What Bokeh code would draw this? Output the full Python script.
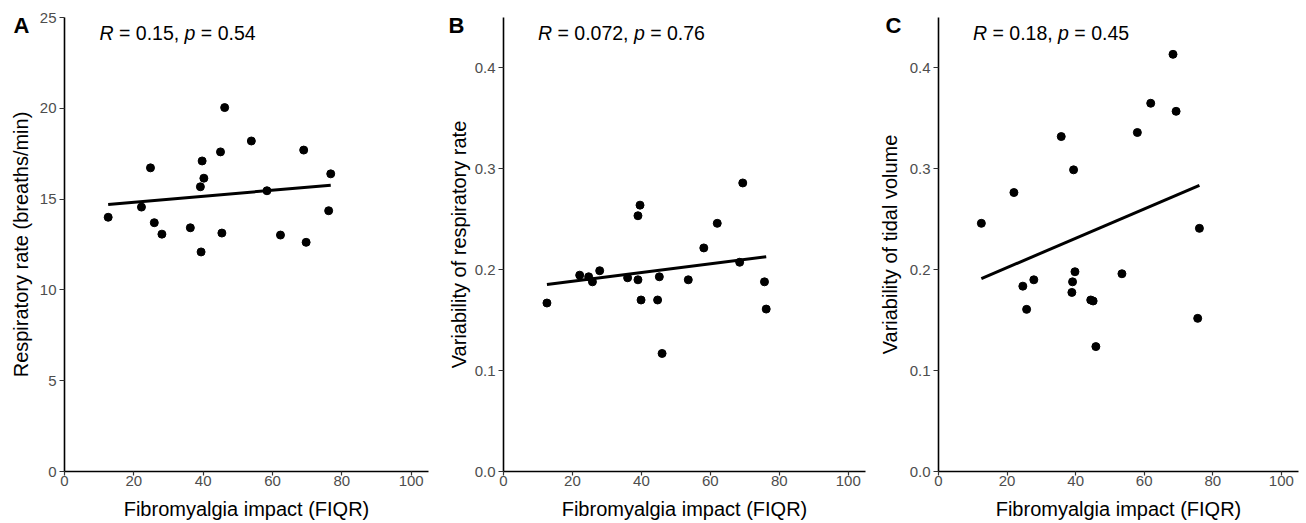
import numpy as np
from bokeh.plotting import figure
from bokeh.layouts import row
from bokeh.models import Range1d, FixedTicker, PrintfTickFormatter, Label
from bokeh.embed import file_html
from bokeh.resources import INLINE

# ---------------- data ----------------
fiqr_a = [12.6, 22.2, 24.8, 25.9, 28.1, 36.3, 39.2, 39.7, 40.2, 39.4,
          45.0, 45.4, 46.2, 53.9, 58.4, 62.3, 69.0, 69.7, 76.2, 76.8]
resp_rate = [14.0, 14.56, 16.72, 13.7, 13.07, 13.42, 15.68, 17.1, 16.15, 12.09,
             17.6, 13.13, 20.04, 18.2, 15.46, 13.02, 17.7, 12.62, 14.36, 16.39]

fiqr_b = [12.6, 22.1, 24.7, 25.8, 27.9, 36.0, 39.0, 39.0, 39.6, 39.9,
          44.7, 45.2, 46.0, 53.6, 58.1, 62.0, 68.5, 69.4, 75.7, 76.2]
resp_rate_var = [0.167, 0.1946, 0.193, 0.188, 0.199, 0.192, 0.190, 0.2535, 0.264, 0.170,
                 0.170, 0.193, 0.117, 0.190, 0.2216, 0.246, 0.2074, 0.286, 0.188, 0.161]

fiqr_c = [12.5, 22.0, 24.6, 25.7, 27.8, 35.8, 38.9, 39.1, 39.4, 39.8,
          44.4, 45.1, 45.9, 53.5, 58.0, 61.9, 68.4, 69.3, 75.6, 76.1]
tidal_vol_var = [0.246, 0.2765, 0.1837, 0.1607, 0.190, 0.332, 0.1775, 0.188, 0.299, 0.198,
                 0.170, 0.169, 0.1238, 0.196, 0.336, 0.365, 0.4135, 0.357, 0.1518, 0.241]

x_ticks = [0, 20, 40, 60, 80, 100]
a_ticks = [0, 5, 10, 15, 20, 25]
bc_ticks = [0.0, 0.1, 0.2, 0.3, 0.4]

tags = ["A", "B", "C"]
y_labels = ["Respiratory rate (breaths/min)",
            "Variability of respiratory rate",
            "Variability of tidal volume"]
r_values = ["0.15", "0.072", "0.18"]
p_values = ["0.54", "0.76", "0.45"]
x_label = "Fibromyalgia impact (FIQR)"

# ---------------- styling / layout ----------------
FONT = "Liberation Sans"
XMAX = 105
H = 521          # figure height (px)
TOP = 17         # px from figure top to y = ymax
DY = 454         # px spanned by 0..ymax

# per panel: figure width, px from figure left to x = 0, px spanned by 0..XMAX
layout_specs = [
    dict(width=438, left=64, dx=364, ymax=25, ticks=a_ticks, fmt="%d",
         label_standoff=5, tag_px=13, ann_px=99),
    dict(width=435, left=65, dx=362, ymax=0.45, ticks=bc_ticks, fmt="%.1f",
         label_standoff=2, tag_px=10, ann_px=99.5),
    dict(width=427, left=65, dx=360, ymax=0.45, ticks=bc_ticks, fmt="%.1f",
         label_standoff=6, tag_px=12, ann_px=99.5),
]

xs_all = [fiqr_a, fiqr_b, fiqr_c]
ys_all = [resp_rate, resp_rate_var, tidal_vol_var]

ADV = {' ': 0.278, '=': 0.584, '.': 0.278, ',': 0.278, 'R': 0.722, 'p': 0.556}
for d in "0123456789":
    ADV[d] = 0.556


def text_width(s, size):
    return sum(ADV.get(c, 0.556) for c in s) * size


ANN_SIZE = 19.5
TAG_Y = 24.5     # requested baseline px
ANN_Y = 32.5
figs = []
for i in range(3):
    spec = layout_specs[i]
    W, L, DX, ymax = spec["width"], spec["left"], spec["dx"], spec["ymax"]

    def dx_data(px):
        return (px - L) * XMAX / DX

    def dy_data(px):
        return ymax - (px - TOP) * ymax / DY

    p = figure(width=W, height=H, output_backend="svg", toolbar_location=None,
               x_range=Range1d(dx_data(0), dx_data(W)),
               y_range=Range1d(dy_data(H), dy_data(0)),
               min_border=0)
    p.outline_line_color = None
    p.background_fill_color = "white"
    p.border_fill_color = "white"
    p.xgrid.visible = False
    p.ygrid.visible = False

    # axes (drawn at fixed locations so that the frame covers the whole figure)
    for ax in (p.xaxis[0], p.yaxis[0]):
        ax.fixed_location = 0
        ax.axis_line_color = "black"
        ax.axis_line_width = 1.6
        ax.major_tick_line_color = "#333333"
        ax.major_tick_line_width = 1.2
        ax.major_tick_in = 0
        ax.minor_tick_line_color = None
        ax.major_label_text_font = FONT
        ax.major_label_text_font_size = "15px"
        ax.major_label_text_color = "#4D4D4D"
        ax.axis_label_text_font = FONT
        ax.axis_label_text_font_size = "20px"
        ax.axis_label_text_font_style = "normal"
        ax.axis_label_text_color = "black"

    p.xaxis.bounds = (0, XMAX)
    p.xaxis.ticker = FixedTicker(ticks=x_ticks)
    p.xaxis.axis_label = x_label
    p.xaxis.major_tick_out = 4
    p.xaxis.major_label_standoff = 0
    p.xaxis.axis_label_standoff = 9

    p.yaxis.bounds = (0, ymax)
    p.yaxis.ticker = FixedTicker(ticks=spec["ticks"])
    p.yaxis.formatter = PrintfTickFormatter(format=spec["fmt"])
    p.yaxis.axis_label = y_labels[i]
    p.yaxis.major_tick_out = 5
    p.yaxis.major_label_standoff = 3
    p.yaxis.axis_label_standoff = spec["label_standoff"]

    # data
    x = np.array(xs_all[i], dtype=float)
    y = np.array(ys_all[i], dtype=float)
    p.scatter(x, y, size=8, color="black")
    coef = np.polyfit(x, y, 1)
    lx = np.array([x.min(), x.max()])
    p.line(lx, np.polyval(coef, lx), line_width=3, color="black")

    # panel tag
    p.add_layout(Label(x=dx_data(spec["tag_px"]), y=dy_data(TAG_Y), text=tags[i],
                       text_font=FONT, text_font_size="22px",
                       text_font_style="bold", text_color="black",
                       text_baseline="alphabetic", text_align="left"))

    # correlation annotation, with italic R and p
    r_part = "= " + r_values[i] + ","
    p_part = "= " + p_values[i]
    segs = [("R", "italic", ""),
            (r_part, "normal", "R "),
            ("p", "italic", "R " + r_part + " "),
            (p_part, "normal", "R " + r_part + " p ")]
    for s, style, before in segs:
        px = spec["ann_px"] + text_width(before, ANN_SIZE)
        p.add_layout(Label(x=dx_data(px), y=dy_data(ANN_Y), text=s,
                           text_font=FONT, text_font_size=f"{ANN_SIZE}px",
                           text_font_style=style, text_color="black",
                           text_baseline="alphabetic", text_align="left"))
    figs.append(p)

layout = row(*figs)
open("out.html", "w").write(file_html(layout, INLINE))
